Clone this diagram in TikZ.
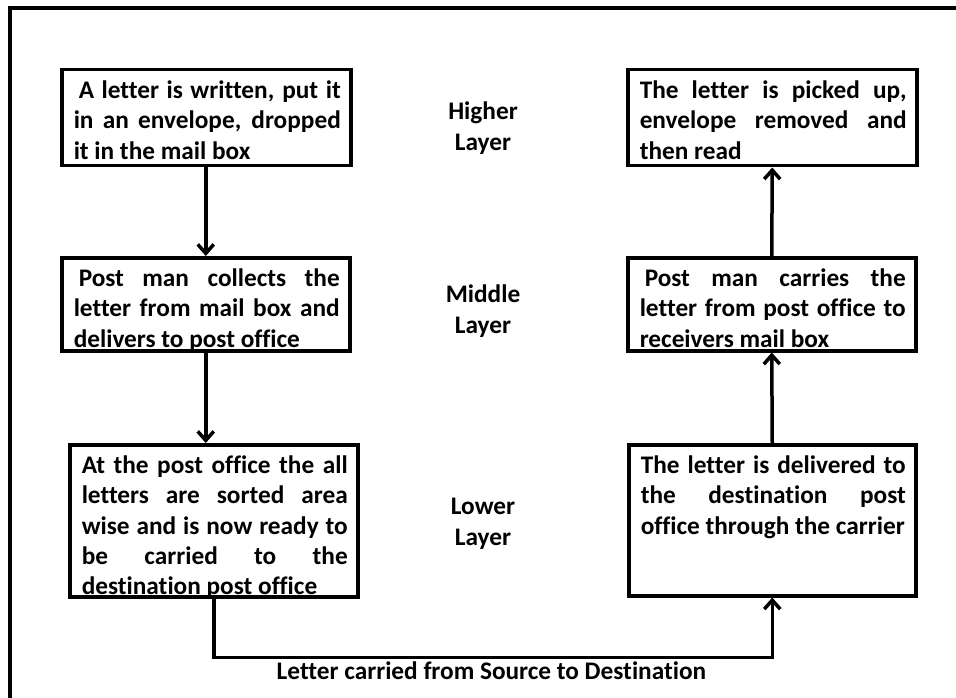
\documentclass[tikz,border=0pt]{standalone}
\usepackage{fontspec}
\setmainfont[Ligatures=NoCommon]{Carlito}
\usetikzlibrary{arrows.meta}
\newcommand\boxtxt[3]{\parbox[c][#1][t]{#2}{\leftskip=12pt\rightskip=10pt\tolerance=9999\hyphenpenalty=10000\fontsize{25.3}{30.2}\selectfont\bfseries\rule{0pt}{29pt}#3\par}}
\tikzset{
  boxn/.style={draw, line width=3.5pt, inner sep=0pt, anchor=north west},
  lay/.style={align=center, anchor=base, inner sep=0pt, font=\fontsize{25.3}{30.5}\selectfont\bfseries},
  conn/.style={line width=3.5pt, -{Straight Barb[length=9pt,width=16pt,line width=3.5pt]}},
  frame/.style={line width=3.5pt, line cap=rect}
}
\begin{document}
\begin{tikzpicture}[x=1pt,y=-1pt]
\useasboundingbox (0,0) rectangle (956,698);
\draw[frame] (956,8) -- (10,8) -- (10,700);
\node[boxn] (A) at (60,68) {\boxtxt{96pt}{289pt}{\hspace*{5pt}A letter is written, put it\linebreak in an envelope, dropped\linebreak it in the mail box}};
\node[boxn] (B) at (626,68) {\boxtxt{96pt}{289pt}{The letter is picked up,\linebreak envelope removed and\linebreak then read}};
\node[boxn] (C) at (60,256) {\boxtxt{93pt}{288pt}{\hspace*{5pt}Post man collects the\linebreak letter from mail box and\linebreak delivers to post office}};
\node[boxn] (D) at (626,256) {\boxtxt{93pt}{288pt}{\hspace*{5pt}Post man carries the\linebreak letter from post office to\linebreak receivers mail box}};
\node[boxn] (E) at (68,443) {\boxtxt{152pt}{288pt}{At the post office the all\linebreak letters are sorted area\linebreak wise and is now ready to\linebreak be carried to the\linebreak destination post office}};
\node[boxn] (F) at (627,443) {\boxtxt{151pt}{287pt}{The letter is delivered to\linebreak the destination post\linebreak office through the carrier}};
\node[lay] (hl) at (483,150) {Higher\\Layer};
\node[lay] (ml) at (483,333) {Middle\\Layer};
\node[lay] (ll) at (483,545) {Lower\\Layer};
\node[lay] (lbl) at (491.5,679) {Letter carried from Source to Destination};
\draw[conn] (C.north |- A.south) -- (C.north);
\draw[conn] (C.south) -- (C.south |- E.north);
\draw[conn] (F.north) -- (D.south);
\draw[conn] (D.north) -- (B.south);
\draw[conn] (E.south) -- ++(0,59) -| (F.south);
\end{tikzpicture}
\end{document}
